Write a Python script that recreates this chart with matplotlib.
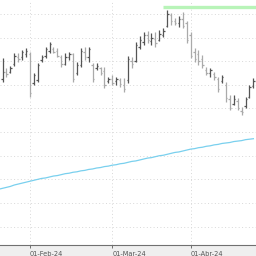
import matplotlib
matplotlib.use('Agg')
import matplotlib.pyplot as plt
from matplotlib.ticker import MultipleLocator

# daily OHLC bars, one per trading day starting 22-Jan-24
opens = [38.62, 38.78, 38.78, 38.95, 39.10, 39.08, 39.15, 39.15, 38.55, 38.60,
         39.02, 39.12, 39.22, 39.25, 39.22, 39.10, 38.95, 39.10, 39.15, 38.75,
         38.92, 39.20, 39.08, 38.92, 38.85, 38.85, 38.80, 38.58, 38.62, 38.58,
         38.60, 38.50, 38.60, 39.00, 39.00, 39.30, 39.40, 39.55, 39.42, 39.48,
         39.45, 39.55, 39.75, 39.98, 39.85, 39.80, 39.90, 39.80, 39.55, 39.20,
         39.15, 39.05, 38.82, 38.75, 38.74, 38.62, 38.58, 38.50, 38.20, 38.10,
         38.15, 37.95, 38.05, 38.25, 38.48]
highs = [39.07, 38.86, 38.90, 39.17, 39.17, 39.24, 39.28, 39.19, 38.75, 38.96,
         39.13, 39.30, 39.41, 39.30, 39.28, 39.13, 39.17, 39.19, 39.17, 38.98,
         39.28, 39.30, 39.30, 38.96, 38.96, 38.88, 38.88, 38.67, 38.71, 38.67,
         38.64, 38.64, 39.11, 39.09, 39.41, 39.53, 39.62, 39.64, 39.60, 39.62,
         39.66, 39.70, 40.08, 40.02, 39.92, 39.96, 40.04, 39.85, 39.62, 39.28,
         39.24, 39.13, 38.88, 38.86, 38.77, 38.67, 38.71, 38.56, 38.28, 38.28,
         38.22, 38.03, 38.24, 38.50, 38.64]
lows = [38.56, 38.67, 38.75, 38.90, 38.98, 39.03, 39.09, 38.24, 38.50, 38.56,
        38.98, 39.07, 39.17, 39.17, 39.09, 38.88, 38.92, 39.03, 38.56, 38.71,
        38.88, 39.03, 38.98, 38.56, 38.81, 38.71, 38.43, 38.54, 38.50, 38.50,
        38.45, 38.35, 38.54, 38.86, 38.98, 39.26, 39.34, 39.39, 39.34, 39.30,
        39.43, 39.51, 39.72, 39.77, 39.77, 39.72, 39.70, 39.39, 39.07, 38.98,
        38.92, 38.86, 38.71, 38.67, 38.60, 38.35, 38.54, 38.14, 37.97, 38.07,
        37.97, 37.86, 38.01, 38.22, 38.43]
closes = [38.78, 38.72, 38.86, 39.12, 39.05, 39.20, 39.22, 38.32, 38.70, 38.92,
          39.10, 39.26, 39.36, 39.20, 39.12, 38.95, 39.10, 39.15, 38.62, 38.92,
          39.22, 39.10, 39.25, 38.62, 38.90, 38.76, 38.50, 38.62, 38.55, 38.62,
          38.52, 38.42, 39.05, 38.95, 39.35, 39.45, 39.55, 39.45, 39.50, 39.38,
          39.58, 39.65, 40.00, 39.85, 39.82, 39.90, 39.75, 39.45, 39.12, 39.05,
          39.00, 38.92, 38.76, 38.82, 38.66, 38.42, 38.66, 38.22, 38.02, 38.20,
          38.02, 37.92, 38.20, 38.45, 38.58]

# moving average, starts one day before the first bar
ma = [36.29, 36.31, 36.33, 36.35, 36.38, 36.40, 36.42, 36.44, 36.46, 36.48,
      36.50, 36.52, 36.53, 36.55, 36.57, 36.58, 36.60, 36.62, 36.63, 36.65,
      36.66, 36.68, 36.69, 36.71, 36.72, 36.74, 36.75, 36.77, 36.78, 36.80,
      36.81, 36.83, 36.84, 36.86, 36.88, 36.89, 36.91, 36.93, 36.95, 36.96,
      36.98, 37.00, 37.01, 37.03, 37.05, 37.07, 37.08, 37.10, 37.12, 37.14,
      37.15, 37.17, 37.18, 37.20, 37.21, 37.23, 37.24, 37.26, 37.27, 37.28,
      37.30, 37.31, 37.32, 37.34, 37.35, 37.36]

resistance = 40.14
resistance_start = 41

tick_pos = [7, 28, 48]
tick_labels = ['01-Feb-24', '01-Mar-24', '01-Abr-24']

fig = plt.figure(figsize=(2.56, 2.56), dpi=100, facecolor='#efefef')
ax = fig.add_axes([0, 11 / 256, 1, 245 / 256])
ax.set_facecolor('white')

x = list(range(len(opens)))
ax.plot(range(-1, len(ma) - 1), ma, color='#7ad0ee', lw=0.9, zorder=2)
ax.hlines(resistance, resistance_start, 70, color='#b8f4b8', lw=2.4, zorder=2)

cols = ['#555555' if c >= o else '#aaaaaa' for o, c in zip(opens, closes)]
ax.vlines(x, lows, highs, colors=cols, lw=0.9, zorder=3)
ax.hlines(opens, [i - 0.35 for i in x], x, colors=cols, lw=0.9, zorder=3)
ax.hlines(closes, x, [i + 0.35 for i in x], colors=cols, lw=0.9, zorder=3)

ax.set_xlim(-0.64, 64.67)
ax.set_ylim(35.11, 40.297)
ax.yaxis.set_major_locator(MultipleLocator(0.5))
ax.set_xticks(tick_pos)
ax.set_xticklabels(tick_labels, ha='left', fontsize=4.8, color='#555555')
ax.tick_params(axis='x', direction='out', length=2.5, width=0.7, color='#707070', pad=1.5)
ax.tick_params(axis='y', length=0, labelleft=False)
ax.grid(True, color='#d8d8d8', linestyle=(0, (1, 2.5)), lw=0.7)
ax.set_axisbelow(True)
for s in ['top', 'left', 'right']:
    ax.spines[s].set_visible(False)
ax.spines['bottom'].set_color('#707070')
ax.spines['bottom'].set_linewidth(0.8)

fig.savefig('out.png', dpi=100, facecolor=fig.get_facecolor())
